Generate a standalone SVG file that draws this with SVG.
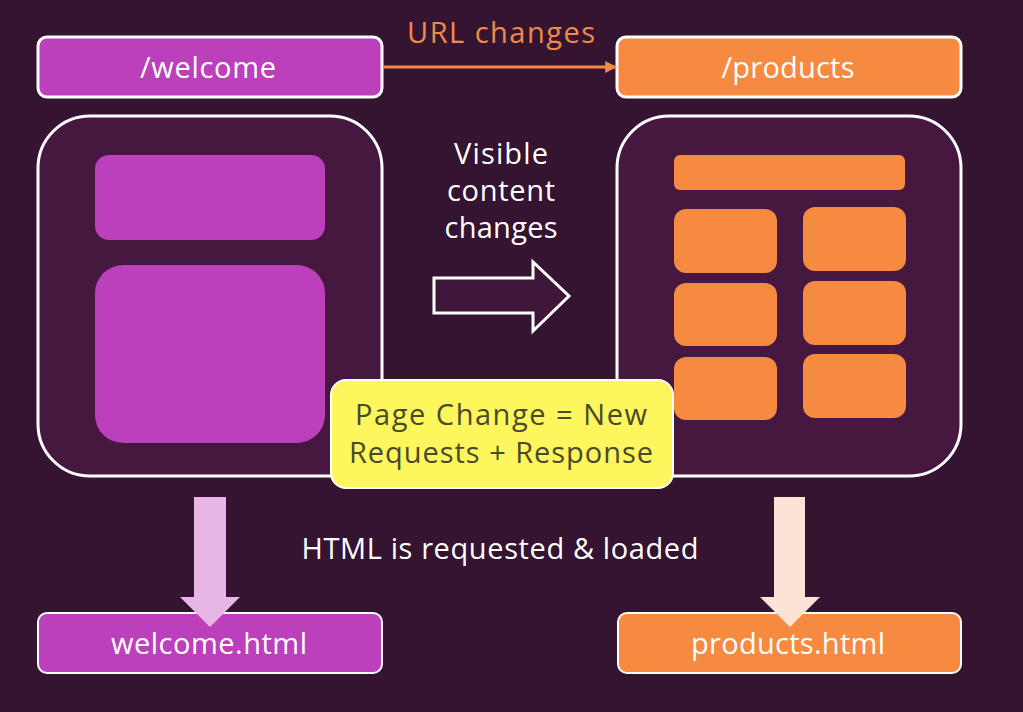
<svg xmlns="http://www.w3.org/2000/svg" width="1023" height="712" viewBox="0 0 1023 712">
<defs>
<style>
.t{font-family:"Open Sans","Noto Sans","Liberation Sans",sans-serif;text-anchor:middle;font-size:29px}
.w{fill:#ffffff}
.pur{fill:#bc3fbc}
.org{fill:#f58a40}
.box{stroke:#ffffff;stroke-width:3}
.panel{fill:#46183f;stroke:#ffffff;stroke-width:3}
</style>
<marker id="ah" viewBox="0 0 10 10" refX="9" refY="5" markerWidth="4" markerHeight="4" orient="auto" markerUnits="strokeWidth">
<path d="M0,0 L10,5 L0,10 Z" fill="#f08a45"/>
</marker>
</defs>
<rect x="0" y="0" width="1023" height="712" fill="#341431"/>
<text class="t" x="501" y="43" fill="#f08a45" textLength="188" lengthAdjust="spacing">URL changes</text>
<g id="welcome">
<rect class="box pur" x="38" y="37" width="344" height="60" rx="9"/>
<text class="t w" x="208" y="78" textLength="136" lengthAdjust="spacing">/welcome</text>
</g>
<g id="products">
<rect class="box org" x="617" y="37" width="344" height="60" rx="9"/>
<text class="t w" x="788" y="78" textLength="133" lengthAdjust="spacing">/products</text>
</g>
<g id="welcome-page">
<rect class="panel" x="38" y="116" width="344" height="360" rx="52"/>
<rect class="pur" x="95" y="155" width="230" height="85" rx="14"/>
<rect class="pur" x="95" y="265" width="230" height="178" rx="28"/>
</g>
<g id="products-page">
<rect class="panel" x="617" y="116" width="344" height="360" rx="52"/>
<rect class="org" x="674" y="155" width="231" height="35" rx="6"/>
<rect class="org" x="674" y="209" width="103" height="64" rx="12"/>
<rect class="org" x="803" y="207" width="103" height="64" rx="12"/>
<rect class="org" x="674" y="283" width="103" height="63" rx="12"/>
<rect class="org" x="803" y="281" width="103" height="64" rx="12"/>
<rect class="org" x="674" y="357" width="103" height="63" rx="12"/>
<rect class="org" x="803" y="354" width="103" height="64" rx="12"/>
</g>
<g id="visible-label">
<text class="t w" x="501" y="164" textLength="94" lengthAdjust="spacing">Visible</text>
<text class="t w" x="501" y="201" textLength="108" lengthAdjust="spacing">content</text>
<text class="t w" x="501" y="238" textLength="113" lengthAdjust="spacing">changes</text>
</g>
<g id="page-change">
<rect x="331" y="380" width="342" height="108" rx="15" fill="#fdf65c" stroke="#ffffff" stroke-width="2"/>
<text class="t" x="501" y="425" fill="#4a4a2b" textLength="292" lengthAdjust="spacing">Page Change = New</text>
<text class="t" x="501" y="463" fill="#4a4a2b" textLength="304" lengthAdjust="spacing">Requests + Response</text>
</g>
<text class="t w" x="500" y="559" textLength="397" lengthAdjust="spacing">HTML is requested &amp; loaded</text>
<g id="welcome-html">
<rect class="pur" x="38" y="613" width="344" height="60" rx="9" stroke="#ffffff" stroke-width="2"/>
<text class="t w" x="209" y="654" textLength="196" lengthAdjust="spacing">welcome.html</text>
</g>
<g id="products-html">
<rect class="org" x="618" y="613" width="343" height="60" rx="9" stroke="#ffffff" stroke-width="2"/>
<text class="t w" x="788" y="654" textLength="194" lengthAdjust="spacing">products.html</text>
</g>
<g id="connectors">
<line x1="383" y1="67" x2="616" y2="67" stroke="#f08a45" stroke-width="3" marker-end="url(#ah)"/>
<path d="M434,278 H533 V262 L569,296 L533,331 V313 H434 Z" fill="#3d1639" stroke="#ffffff" stroke-width="3" stroke-linejoin="miter"/>
<path d="M194,497 H226 V597 H240 L210,627 L180,597 H194 Z" fill="#e7b6e6"/>
<path d="M774,497 H805 V597 H820 L790,627 L760,597 H774 Z" fill="#fde3d5"/>
</g>
</svg>
